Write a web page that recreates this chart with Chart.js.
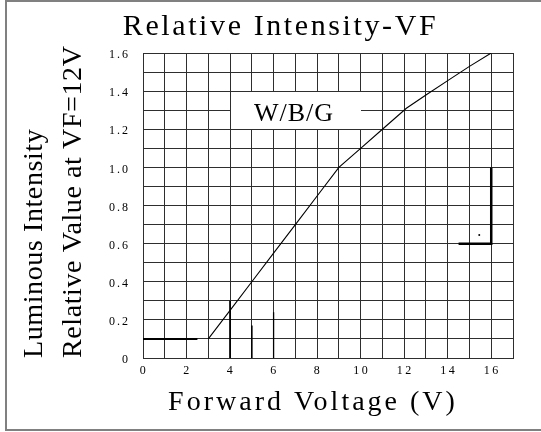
<!DOCTYPE html>
<html>
<head>
<meta charset="utf-8">
<script src="https://cdn.jsdelivr.net/npm/chart.js@4/dist/chart.umd.min.js"></script>
<style>
  html, body { margin: 0; padding: 0; background: #fff; }
  #wrap { width: 541px; height: 432px; }
</style>
</head>
<body>
<div id="wrap"><canvas id="c" width="541" height="432"></canvas></div>
<script>
// ---- data ----
const chartTitle = 'Relative Intensity-VF';
const xAxisTitle = 'Forward Voltage (V)';
const yAxisTitle = ['Luminous Intensity', 'Relative Value at VF=12V'];
const boxLabel = 'W/B/G';

const xTickLabels = ['0', '2', '4', '6', '8', '10', '12', '14', '16'];
const yTickLabels = ['0', '0.2', '0.4', '0.6', '0.8', '1.0', '1.2', '1.4', '1.6'];

const vfVolts      = [3,   4,    5,   6,    7,   8,    9,   10,  11,  12.1, 13,   14,    15,   16];
const relIntensity = [0.1, 0.25, 0.4, 0.55, 0.7, 0.85, 1.0, 1.1, 1.2, 1.31, 1.38, 1.455, 1.53, 1.6];

// stray marks visible in the scanned figure
const stubBaseX = [0, 2.5];     const stubBaseY = [0.1, 0.1];
const stub4X = [4, 4];          const stub4Y = [0, 0.3];
const stub5X = [5, 5];          const stub5Y = [0, 0.17];
const stub6X = [6, 6];          const stub6Y = [0, 0.24];
const bracketX = [14.5, 16, 16]; const bracketY = [0.6, 0.6, 1.0];
const dotX = [15.45];           const dotY = [0.645];

const xMin = 0, xMax = 17, xStep = 1;
const yMin = 0, yMax = 1.6, yStep = 0.1;

const pts = (xs, ys) => xs.map((x, i) => ({ x: x, y: ys[i] }));

const FONT = "'Liberation Serif', 'Times New Roman', serif";
const GRID = '#2e2e2e';

function wrap(obj, name, ls, dx, dy) {
  if (!obj || obj['_w_' + name]) return;
  const orig = obj[name];
  obj[name] = function () {
    const c = this.ctx;
    c.save();
    c.letterSpacing = ls;
    c.translate(dx, dy);
    const r = orig.apply(this, arguments);
    c.restore();
    return r;
  };
  obj['_w_' + name] = true;
}

const figurePlugin = {
  id: 'figure',
  beforeDraw(chart) {
    const ctx = chart.ctx;
    ctx.save();
    ctx.fillStyle = '#fff';
    ctx.fillRect(0, 0, chart.width, chart.height);
    ctx.restore();
    wrap(chart.titleBlock, 'draw', '2.6px', 24, 0);
    wrap(chart.scales.x, 'drawTitle', '3px', -15, 0);
    wrap(chart.scales.y, 'drawTitle', '0.6px', 0, 0);
    wrap(chart.scales.x, 'drawLabels', '2.5px', 1, 0);
    wrap(chart.scales.y, 'drawLabels', '2px', 0, 0);
  },
  beforeDatasetsDraw(chart) {
    const { ctx, scales: { x, y } } = chart;
    const l = Math.round(x.getPixelForValue(4)) + 1;
    const r = Math.round(x.getPixelForValue(10));
    const t = Math.round(y.getPixelForValue(1.4)) + 1;
    const b = Math.round(y.getPixelForValue(1.2));
    ctx.save();
    ctx.fillStyle = '#fff';
    ctx.fillRect(l, t, r - l, b - t);
    ctx.fillStyle = '#000';
    ctx.font = '26px ' + FONT;
    ctx.textAlign = 'center';
    ctx.textBaseline = 'alphabetic';
    ctx.letterSpacing = '1px';
    ctx.fillText(boxLabel, (l + r) / 2 - 2, b - 8);
    ctx.restore();
  },
  afterDraw(chart) {
    const ctx = chart.ctx;
    ctx.save();
    ctx.fillStyle = '#808080';
    ctx.fillRect(5, 0, chart.width - 5, 2);
    ctx.fillRect(5, 0, 2, 431);
    ctx.fillRect(5, 429, chart.width - 5, 2);
    ctx.restore();
  }
};

const segStyle = (w) => ({
  borderColor: '#000', backgroundColor: '#000', borderWidth: w,
  pointRadius: 0, showLine: true, fill: false, tension: 0
});

new Chart(document.getElementById('c'), {
  type: 'scatter',
  data: {
    datasets: [
      Object.assign({ data: pts(vfVolts, relIntensity) }, segStyle(1.1)),
      Object.assign({ data: pts(stubBaseX, stubBaseY) }, segStyle(2)),
      Object.assign({ data: pts(stub4X, stub4Y) }, segStyle(1.8)),
      Object.assign({ data: pts(stub5X, stub5Y) }, segStyle(1.6)),
      Object.assign({ data: pts(stub6X, stub6Y) }, segStyle(1.3)),
      Object.assign({ data: pts(bracketX, bracketY) }, segStyle(2.5)),
      { data: pts(dotX, dotY), showLine: false, pointRadius: 1, pointBorderWidth: 0,
        backgroundColor: '#000', borderColor: '#000' }
    ]
  },
  options: {
    responsive: false,
    devicePixelRatio: 1,
    animation: false,
    events: [],
    layout: { padding: { left: 0, right: 28, top: 0, bottom: 0 } },
    plugins: {
      legend: { display: false },
      tooltip: { enabled: false },
      title: {
        display: true,
        text: chartTitle,
        color: '#000',
        font: { family: FONT, size: 30, weight: 'normal', lineHeight: 1.2 },
        padding: { top: 9, bottom: 8 }
      }
    },
    scales: {
      x: {
        type: 'linear',
        min: xMin, max: xMax,
        afterFit: (s) => { s.height = 74; },
        afterBuildTicks: (s) => {
          s.ticks = [];
          for (let v = xMin; v <= xMax + 1e-9; v += xStep) s.ticks.push({ value: v });
        },
        ticks: {
          autoSkip: false, maxRotation: 0, padding: 6, color: '#000',
          font: { family: FONT, size: 12 },
          callback: (v) => {
            const k = Math.round(v);
            return (k % 2 === 0 && k / 2 < xTickLabels.length) ? xTickLabels[k / 2] : '';
          }
        },
        grid: { color: GRID, lineWidth: 1, drawTicks: false },
        border: { display: true, color: GRID, width: 1 },
        title: {
          display: true, text: xAxisTitle, color: '#000',
          font: { family: FONT, size: 28, lineHeight: 1.2 },
          padding: { top: 0, bottom: 13 }
        }
      },
      y: {
        type: 'linear',
        min: yMin, max: yMax,
        afterFit: (s) => { s.width = 143; },
        afterBuildTicks: (s) => {
          s.ticks = [];
          for (let k = 0; k <= Math.round((yMax - yMin) / yStep); k++) s.ticks.push({ value: +(yMin + k * yStep).toFixed(2) });
        },
        ticks: {
          autoSkip: false, padding: 13, color: '#000', labelOffset: 2,
          font: { family: FONT, size: 12 },
          callback: (v) => {
            const k = Math.round(v * 10);
            return k % 2 === 0 ? yTickLabels[k / 2] : '';
          }
        },
        grid: { color: GRID, lineWidth: 1, drawTicks: false },
        border: { display: true, color: GRID, width: 1 },
        title: {
          display: true, text: yAxisTitle, color: '#000', align: 'start',
          font: { family: FONT, size: 28, lineHeight: '39px' },
          padding: { top: 15, bottom: 0 }
        }
      }
    }
  },
  plugins: [figurePlugin]
});
</script>
</body>
</html>
